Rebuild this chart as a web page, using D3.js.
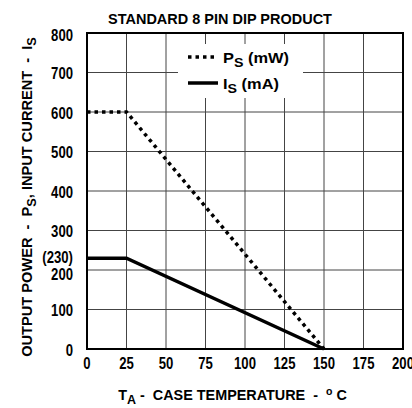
<!DOCTYPE html>
<html>
<head>
<meta charset="UTF-8">
<script src="https://d3js.org/d3.v7.min.js"></script>
<style>
  body { margin: 0; background: #fff; }
  svg text { font-family: "Liberation Sans", Arial, sans-serif; font-weight: bold; fill: #000; white-space: pre; }
</style>
</head>
<body>
<svg id="chart" width="412" height="408"></svg>
<script>
// Data
const xTicks = [0, 25, 50, 75, 100, 125, 150, 175, 200];
const yTicks = [0, 100, 200, 300, 400, 500, 600, 700, 800];
const psTemp = [0, 25, 150];
const psValue = [600, 600, 0];   // mW
const isTemp = [0, 25, 150];
const isValue = [230, 230, 0];   // mA

const svg = d3.select("#chart");
const m = { left: 87, right: 403, top: 33, bottom: 349 };

const x = d3.scaleLinear().domain([0, 200]).range([m.left, m.right]);
const y = d3.scaleLinear().domain([0, 800]).range([m.bottom, m.top]);

// condensed text helper: squeeze horizontally around the anchor
function narrowText(px, py, anchor, size, sx, rot) {
  return svg.append("text")
    .attr("transform", `translate(${px},${py})` + (rot ? ` rotate(${rot})` : "") + ` scale(${sx},1)`)
    .attr("text-anchor", anchor).attr("font-size", size);
}
// squeeze a text so it spans a given width
function fitWidth(t, w) {
  const len = t.node().getComputedTextLength();
  const cur = t.attr("transform").replace(/ scale\([^)]*\)/, "");
  t.attr("transform", cur + ` scale(${w / len},1)`);
}

// grid
svg.append("g").selectAll("line").data(xTicks).enter().append("line")
  .attr("x1", d => x(d)).attr("x2", d => x(d))
  .attr("y1", m.top).attr("y2", m.bottom)
  .attr("stroke", "#444").attr("stroke-width", 1);
svg.append("g").selectAll("line").data(yTicks).enter().append("line")
  .attr("x1", m.left).attr("x2", m.right)
  .attr("y1", d => y(d)).attr("y2", d => y(d))
  .attr("stroke", "#444").attr("stroke-width", 1);

// legend box (white, hides grid)
svg.append("rect").attr("x", 178).attr("y", 44).attr("width", 125).attr("height", 54).attr("fill", "#fff");

// frame
svg.append("rect").attr("x", m.left).attr("y", m.top)
  .attr("width", m.right - m.left).attr("height", m.bottom - m.top)
  .attr("fill", "none").attr("stroke", "#000").attr("stroke-width", 2);

// lines
const line = d3.line().x(d => x(d[0])).y(d => y(d[1]));
svg.append("path").datum(psTemp.map((t, i) => [t, psValue[i]]))
  .attr("d", line).attr("fill", "none").attr("stroke", "#000")
  .attr("stroke-width", 3.5).attr("stroke-dasharray", "3.5,4");
svg.append("path").datum(isTemp.map((t, i) => [t, isValue[i]]))
  .attr("d", line).attr("fill", "none").attr("stroke", "#000")
  .attr("stroke-width", 3.5);

// tick labels
xTicks.forEach(d => narrowText(x(d), 369, "middle", 16, 0.82).text(d));
yTicks.forEach(d => narrowText(73, y(d) + (d === 200 ? 9.5 : d === 800 ? 8 : 6.5), "end", 16, 0.82).text(d));
narrowText(73, y(230) + 5, "end", 16, 0.82).text("(230)");

// title
const ti = narrowText(220, 24, "middle", 15, 1).text("STANDARD 8 PIN DIP PRODUCT");
fitWidth(ti, 224);

// legend
svg.append("line").attr("x1", 188).attr("x2", 218).attr("y1", 57).attr("y2", 57)
  .attr("stroke", "#000").attr("stroke-width", 3.5).attr("stroke-dasharray", "3.5,4");
svg.append("line").attr("x1", 188).attr("x2", 218).attr("y1", 83).attr("y2", 83)
  .attr("stroke", "#000").attr("stroke-width", 3.5);
const l1 = narrowText(223, 63, "start", 15, 1);
l1.append("tspan").text("P");
l1.append("tspan").attr("dy", 4).attr("font-size", 13).text("S");
l1.append("tspan").attr("dy", -4).text(" (mW)");
fitWidth(l1, 66);
const l2 = narrowText(223, 89, "start", 15, 1);
l2.append("tspan").text("I");
l2.append("tspan").attr("dy", 4).attr("font-size", 13).text("S");
l2.append("tspan").attr("dy", -4).text(" (mA)");
fitWidth(l2, 56);

// x axis title
const xt = narrowText(232.5, 400, "middle", 15, 1);
xt.append("tspan").text("T");
xt.append("tspan").attr("dy", 4).attr("font-size", 13).text("A");
xt.append("tspan").attr("dy", -4).text(" -  CASE TEMPERATURE  -  ");
xt.append("tspan").attr("dy", -5).attr("font-size", 11).text("o");
xt.append("tspan").attr("dy", 5).text(" C");
fitWidth(xt, 229);

// y axis title
const yt = narrowText(32, 197, "middle", 15, 1, -90);
yt.append("tspan").text("OUTPUT POWER  -  P");
yt.append("tspan").attr("dy", 4).attr("font-size", 13).text("S");
yt.append("tspan").attr("dy", -4).text(", INPUT CURRENT  -  I");
yt.append("tspan").attr("dy", 4).attr("font-size", 13).text("S");
fitWidth(yt, 320);
</script>
</body>
</html>
